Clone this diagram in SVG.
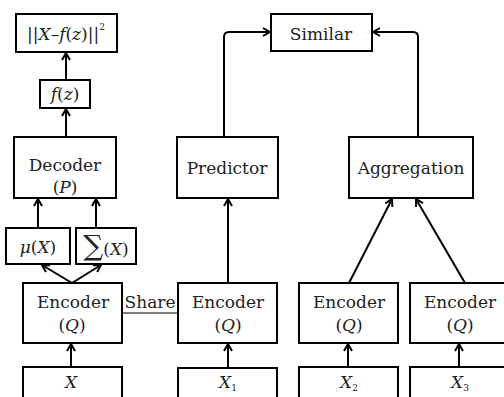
<svg xmlns="http://www.w3.org/2000/svg" width="504" height="397" viewBox="0 0 504 397">
<style>
.b{fill:#fff;stroke:#000;stroke-width:2}
.t{font-family:"DejaVu Serif","Liberation Serif",serif;font-size:17px;fill:#222;text-anchor:middle}
.i{font-style:italic}
.c{fill:none;stroke:#000;stroke-width:2}
</style>
<defs>
<marker id="a" viewBox="0 0 10 10" refX="9" refY="5" markerWidth="10" markerHeight="10" markerUnits="userSpaceOnUse" orient="auto">
<polyline points="2,1 9,5 2,9" fill="none" stroke="#000" stroke-width="2"/>
</marker>
</defs>
<rect width="504" height="397" fill="#fff"/>
<g id="connectors">
<line class="c" x1="66" y1="80" x2="66" y2="53" marker-end="url(#a)"/>
<line class="c" x1="66" y1="137" x2="66" y2="109" marker-end="url(#a)"/>
<line class="c" x1="38" y1="228" x2="38" y2="199" marker-end="url(#a)"/>
<line class="c" x1="96" y1="228" x2="96" y2="199" marker-end="url(#a)"/>
<line class="c" x1="72" y1="283" x2="42" y2="265" marker-end="url(#a)"/>
<line class="c" x1="72" y1="283" x2="101" y2="265" marker-end="url(#a)"/>
<line class="c" x1="71" y1="367" x2="71" y2="344" marker-end="url(#a)"/>
<line x1="122" y1="313" x2="178" y2="313" stroke="#000" stroke-width="1.2"/>
<line class="c" x1="228" y1="367" x2="228" y2="344" marker-end="url(#a)"/>
<line class="c" x1="348" y1="367" x2="348" y2="344" marker-end="url(#a)"/>
<line class="c" x1="459" y1="367" x2="459" y2="344" marker-end="url(#a)"/>
<line class="c" x1="228" y1="283" x2="228" y2="199" marker-end="url(#a)"/>
<line class="c" x1="349" y1="283" x2="392" y2="199" marker-end="url(#a)"/>
<line class="c" x1="465" y1="283" x2="416" y2="199" marker-end="url(#a)"/>
<path class="c" d="M224,137 V37 Q224,32 229,32 H270" marker-end="url(#a)"/>
<path class="c" d="M418,137 V37 Q418,32 413,32 H373" marker-end="url(#a)"/>
</g>
<g id="loss">
<rect class="b" x="16" y="14" width="101" height="38"/>
<text class="t" x="66" y="40"><tspan>||</tspan><tspan class="i">X</tspan><tspan>–</tspan><tspan class="i">f</tspan><tspan>(</tspan><tspan class="i">z</tspan><tspan>)||</tspan><tspan font-size="9" dy="-10">2</tspan></text>
</g>
<g id="fz">
<rect class="b" x="40" y="80" width="50" height="28"/>
<text class="t" x="65" y="100"><tspan class="i">f</tspan>(<tspan class="i">z</tspan>)</text>
</g>
<g id="decoder">
<rect class="b" x="14" y="137" width="102" height="61"/>
<text class="t" x="65" y="171">Decoder</text>
<text class="t" x="65" y="193">(<tspan class="i">P</tspan>)</text>
</g>
<g id="mu">
<rect class="b" x="6" y="228" width="64" height="36"/>
<text class="t" x="38" y="253"><tspan class="i">μ</tspan>(<tspan class="i">X</tspan>)</text>
</g>
<g id="sigma">
<rect class="b" x="76" y="228" width="60" height="36"/>
<text class="t" x="106" y="255"><tspan font-size="28">∑</tspan><tspan>(</tspan><tspan class="i">X</tspan><tspan>)</tspan></text>
</g>
<g id="enc1">
<rect class="b" x="23" y="283" width="99" height="60"/>
<text class="t" x="73" y="308">Encoder</text>
<text class="t" x="72" y="331">(<tspan class="i">Q</tspan>)</text>
</g>
<text class="t" x="150" y="308" font-size="16">Share</text>
<g id="x0">
<rect class="b" x="23" y="367" width="99" height="40"/>
<text class="t i" x="71" y="388">X</text>
</g>
<g id="similar">
<rect class="b" x="271" y="14" width="101" height="37"/>
<text class="t" x="321" y="40">Similar</text>
</g>
<g id="predictor">
<rect class="b" x="177" y="137" width="101" height="61"/>
<text class="t" x="227" y="174">Predictor</text>
</g>
<g id="aggregation">
<rect class="b" x="349" y="137" width="124" height="61"/>
<text class="t" x="411" y="174">Aggregation</text>
</g>
<g id="enc2">
<rect class="b" x="178" y="283" width="99" height="60"/>
<text class="t" x="228" y="308">Encoder</text>
<text class="t" x="228" y="331">(<tspan class="i">Q</tspan>)</text>
</g>
<g id="x1">
<rect class="b" x="178" y="368" width="99" height="40"/>
<text class="t" x="228" y="388"><tspan class="i">X</tspan><tspan font-size="9" dy="3">1</tspan></text>
</g>
<g id="enc3">
<rect class="b" x="299" y="283" width="99" height="60"/>
<text class="t" x="349" y="308">Encoder</text>
<text class="t" x="349" y="331">(<tspan class="i">Q</tspan>)</text>
</g>
<g id="x2">
<rect class="b" x="299" y="367" width="99" height="40"/>
<text class="t" x="349" y="388"><tspan class="i">X</tspan><tspan font-size="9" dy="3">2</tspan></text>
</g>
<g id="enc4">
<rect class="b" x="410" y="283" width="99" height="60"/>
<text class="t" x="460" y="308">Encoder</text>
<text class="t" x="460" y="331">(<tspan class="i">Q</tspan>)</text>
</g>
<g id="x3">
<rect class="b" x="410" y="367" width="99" height="40"/>
<text class="t" x="460" y="388"><tspan class="i">X</tspan><tspan font-size="9" dy="3">3</tspan></text>
</g>
</svg>
